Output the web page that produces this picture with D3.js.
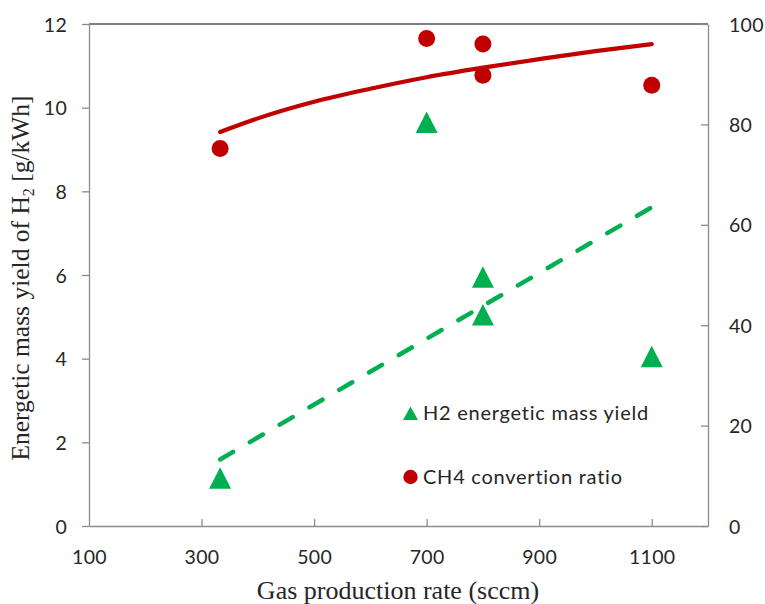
<!DOCTYPE html>
<html><head><meta charset="utf-8">
<script src="https://cdn.jsdelivr.net/npm/d3@7/dist/d3.min.js"></script>
<style>body{margin:0;background:#fff}svg{display:block}</style>
</head><body>
<svg id="chart" width="765" height="604"></svg>
<script>
// ---- data ----
const gasRate   = [333, 700, 800, 800, 1100];          // sccm
const h2Yield   = [1.15, 9.65, 5.95, 5.05, 4.05];      // g/kWh (left axis)
const ch4Conv   = [75.2, 97.1, 96.0, 89.8, 87.8];      // % (right axis)
const h2TrendX  = [333, 1100];
const h2TrendY  = [1.59, 7.62];
const ch4TrendX = [333, 400, 500, 600, 700, 800, 900, 1000, 1100];
const ch4TrendY = [78.5, 81.2, 84.5, 87.1, 89.4, 91.3, 93.0, 94.6, 96.0];
const xTicks    = [100, 300, 500, 700, 900, 1100];
const yLeftTicks  = [0, 2, 4, 6, 8, 10, 12];
const yRightTicks = [0, 20, 40, 60, 80, 100];
const legendLabels = ["H2 energetic mass yield", "CH4 convertion ratio"];

const RED = "#C00000", GREEN = "#00B050", AXIS = "#8c8c8c", TXT = "#262626";
const L = 89, R = 708, T = 24, B = 526;

const svg = d3.select("#chart");
const x = d3.scaleLinear().domain([100, 1200]).range([L, R]);
const yL = d3.scaleLinear().domain([0, 12]).range([B, T]);
const yR = d3.scaleLinear().domain([0, 100]).range([B, T]);

const sans = "Lato, 'Open Sans', sans-serif";
const serif = "'Liberation Serif', 'Times New Roman', serif";
const fmt = d3.format("d");

// top border
svg.append("line").attr("x1", L).attr("x2", R).attr("y1", T).attr("y2", T)
  .attr("stroke", "#000").attr("stroke-width", 1.2);

// axes
const gx = svg.append("g").attr("transform", `translate(0,${B})`)
  .call(d3.axisBottom(x).tickValues(xTicks).tickFormat(fmt).tickSizeInner(-7).tickSizeOuter(0).tickPadding(24));
const gyl = svg.append("g").attr("transform", `translate(${L},0)`)
  .call(d3.axisLeft(yL).tickValues(yLeftTicks).tickFormat(fmt).tickSizeInner(7).tickSizeOuter(0).tickPadding(15));
const gyr = svg.append("g").attr("transform", `translate(${R},0)`)
  .call(d3.axisRight(yR).tickValues(yRightTicks).tickFormat(fmt).tickSizeInner(-7).tickSizeOuter(0).tickPadding(21));
[gx, gyl, gyr].forEach(g => {
  g.select(".domain").attr("stroke", AXIS).attr("stroke-width", 1.3);
  g.selectAll(".tick line").attr("stroke", AXIS).attr("stroke-width", 1.3);
  g.selectAll(".tick text").attr("fill", TXT).style("font-family", sans)
    .style("font-size", "19.5px").style("letter-spacing", "0.3px");
});
gx.selectAll(".tick").filter(d => d === 100).select("line").remove();
gyl.selectAll(".tick text").attr("dy", "0.36em");
gyr.selectAll(".tick text").attr("dy", "0.36em");

// CH4 trend (right axis)
svg.append("path")
  .datum(ch4TrendX.map((v, i) => [v, ch4TrendY[i]]))
  .attr("d", d3.line().x(d => x(d[0])).y(d => yR(d[1])).curve(d3.curveMonotoneX))
  .attr("fill", "none").attr("stroke", RED).attr("stroke-width", 4.2).attr("stroke-linecap", "round");

// H2 trend (left axis) dashed
svg.append("path")
  .datum(h2TrendX.map((v, i) => [v, h2TrendY[i]]))
  .attr("d", d3.line().x(d => x(d[0])).y(d => yL(d[1])))
  .attr("fill", "none").attr("stroke", GREEN).attr("stroke-width", 4.5)
  .attr("stroke-linecap", "round").attr("stroke-dasharray", "15,19.5");

// CH4 points
svg.append("g").selectAll("circle").data(gasRate.map((v, i) => [v, ch4Conv[i]])).join("circle")
  .attr("cx", d => x(d[0])).attr("cy", d => yR(d[1])).attr("r", 8.5).attr("fill", RED);

// H2 triangles
const tri = (cx, cy, w, h) => `M${cx - w/2},${cy + h/2}L${cx + w/2},${cy + h/2}L${cx},${cy - h/2}Z`;
svg.append("g").selectAll("path").data(gasRate.map((v, i) => [v, h2Yield[i]])).join("path")
  .attr("d", d => tri(x(d[0]), yL(d[1]), 22, 21.5)).attr("fill", GREEN);

// legend
const lg = svg.append("g");
lg.append("path").attr("d", tri(410.5, 413.3, 15, 13.5)).attr("fill", GREEN);
lg.append("circle").attr("cx", 410.5).attr("cy", 477).attr("r", 7.2).attr("fill", RED);
lg.selectAll("text").data(legendLabels).join("text")
  .attr("x", 423).attr("y", (d, i) => i === 0 ? 420 : 484)
  .attr("fill", TXT).style("font-family", sans).style("font-size", "20px")
  .style("letter-spacing", "0.75px").text(d => d);

// axis titles
svg.append("text").attr("x", 398).attr("y", 599).attr("text-anchor", "middle")
  .attr("fill", TXT).style("font-family", serif).style("font-size", "26px")
  .text("Gas production rate (sccm)");
const yt = svg.append("text").attr("transform", "translate(29,278) rotate(-90)")
  .attr("text-anchor", "middle").attr("fill", TXT)
  .style("font-family", serif).style("font-size", "25.5px");
yt.append("tspan").text("Energetic mass yield of H");
yt.append("tspan").attr("dy", 5).style("font-size", "16px").text("2");
yt.append("tspan").attr("dy", -5).text(" [g/kWh]");
</script>
</body></html>
